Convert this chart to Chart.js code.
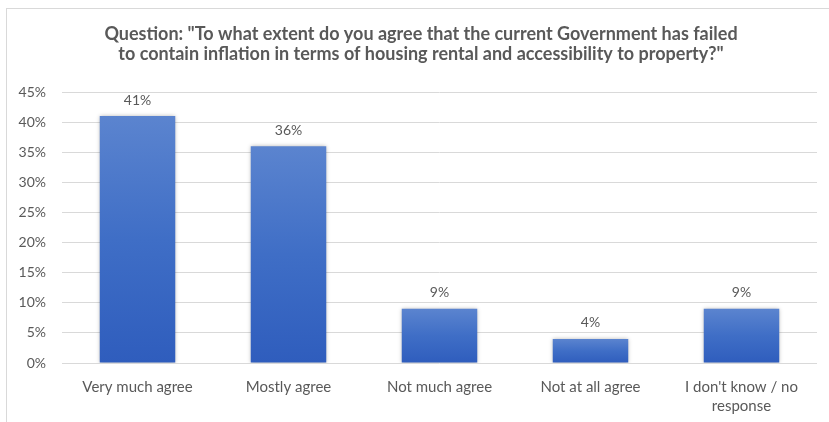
<!DOCTYPE html>
<html>
<head>
<meta charset="utf-8">
<script src="https://cdn.jsdelivr.net/npm/chart.js@4"></script>
<style>
  html, body { margin: 0; padding: 0; background: #ffffff; }
  #wrap { position: relative; width: 829px; height: 422px; overflow: hidden; }
  #frame { position: absolute; left: 6px; top: 8px; right: -2px; bottom: -2px;
           border-left: 1px solid #d9d9d9; border-top: 1px solid #d9d9d9; }
  canvas { position: absolute; left: 0; top: 0; }
</style>
</head>
<body>
<div id="wrap">
  <div id="frame"></div>
  <canvas id="chart" width="829" height="422"></canvas>
</div>
<script>
// Survey answers and their shares (percent)
const categories = [
  'Very much agree',
  'Mostly agree',
  'Not much agree',
  'Not at all agree',
  ["I don't know / no", 'response']
];
const shares = [41, 36, 9, 4, 9];
const titleLines = [
  'Question: "To what extent do you agree that the current Government has failed',
  'to contain inflation in terms of housing rental and accessibility to property?"'
];

const textGray = '#595959';
const fontFamily = 'Lato, "Open Sans", sans-serif';

// Vertical gradient per bar, spanning from the bar's top to its base
function barGradient(context) {
  const chart = context.chart;
  const { ctx, chartArea, scales } = chart;
  if (!chartArea || context.type !== 'data') return '#4472c4';
  const v = context.raw;
  const top = scales.y.getPixelForValue(v);
  const base = scales.y.getPixelForValue(0);
  const g = ctx.createLinearGradient(0, top, 0, base);
  g.addColorStop(0, '#5b84cf');
  g.addColorStop(0.5, '#3f6ec6');
  g.addColorStop(1, '#2f5dbd');
  return g;
}

// Soft shadow around the bars
const barShadow = {
  id: 'barShadow',
  beforeDatasetDraw(chart) {
    const ctx = chart.ctx;
    ctx.save();
    ctx.shadowColor = 'rgba(0,0,0,0.28)';
    ctx.shadowBlur = 4;
    ctx.shadowOffsetX = 0;
    ctx.shadowOffsetY = 0;
  },
  afterDatasetDraw(chart) {
    chart.ctx.restore();
  }
};

// Percentage labels above each bar
const valueLabels = {
  id: 'valueLabels',
  afterDatasetsDraw(chart) {
    const ctx = chart.ctx;
    const meta = chart.getDatasetMeta(0);
    ctx.save();
    ctx.fillStyle = textGray;
    ctx.font = '14px ' + fontFamily;
    ctx.textAlign = 'center';
    ctx.textBaseline = 'middle';
    meta.data.forEach((bar, i) => {
      const v = chart.data.datasets[0].data[i];
      ctx.fillText(v + '%', bar.x, bar.y - 16);
    });
    ctx.restore();
  }
};

// Two-line bold heading, centred over the framed panel
const heading = {
  id: 'heading',
  afterDraw(chart) {
    const ctx = chart.ctx;
    ctx.save();
    ctx.fillStyle = textGray;
    ctx.font = 'bold 18px ' + fontFamily;
    ctx.textAlign = 'center';
    ctx.textBaseline = 'middle';
    const cx = 421;
    titleLines.forEach((line, i) => ctx.fillText(line, cx, 34 + i * 20));
    ctx.restore();
  }
};

new Chart(document.getElementById('chart'), {
  type: 'bar',
  data: {
    labels: categories,
    datasets: [{
      data: shares,
      backgroundColor: barGradient,
      borderWidth: 0,
      barPercentage: 0.5,
      categoryPercentage: 1.0
    }]
  },
  options: {
    responsive: false,
    animation: false,
    devicePixelRatio: 1,
    layout: { padding: { left: 0, right: 12, top: 92, bottom: 0 } },
    plugins: {
      legend: { display: false },
      tooltip: { enabled: false },
      title: { display: false }
    },
    scales: {
      x: {
        afterFit(scale) { scale.height = 59; },
        grid: { display: false, drawTicks: false },
        border: { display: false },
        ticks: {
          color: textGray,
          font: { family: fontFamily, size: 15, lineHeight: 1.3 },
          padding: 14,
          maxRotation: 0,
          autoSkip: false
        }
      },
      y: {
        min: 0,
        max: 45,
        afterFit(scale) { scale.width = 62; },
        grid: { color: '#d9d9d9', drawTicks: false },
        border: { display: false },
        ticks: {
          stepSize: 5,
          color: textGray,
          font: { family: fontFamily, size: 14 },
          padding: 16,
          callback: v => v + '%'
        }
      }
    }
  },
  plugins: [barShadow, valueLabels, heading]
});
</script>
</body>
</html>
